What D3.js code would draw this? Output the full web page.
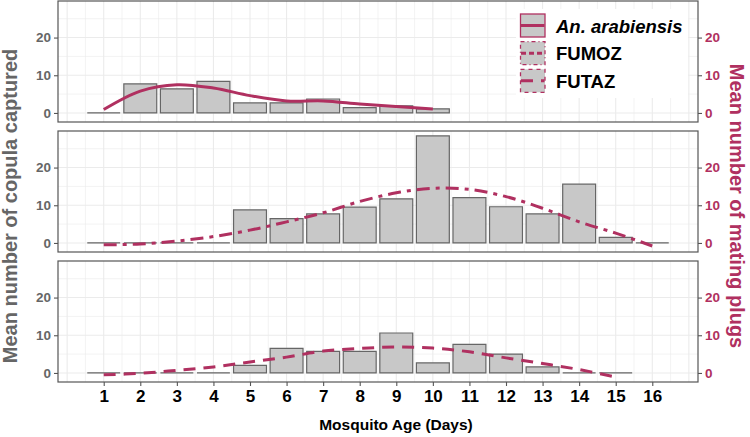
<!DOCTYPE html>
<html>
<head>
<meta charset="utf-8">
<script src="https://cdn.jsdelivr.net/npm/d3@7"></script>
<style>
  body { margin: 0; background: #fff; }
  svg { display: block; font-family: "Liberation Sans", Arial, Helvetica, sans-serif; }
</style>
</head>
<body>
<svg id="chart"></svg>
<script>

var w = 750;
var h = 437;

// data
var days = [1, 2, 3, 4, 5, 6, 7, 8, 9, 10, 11, 12, 13, 14, 15, 16];
var groups = ['An. arabiensis', 'FUMOZ', 'FUTAZ'];

var copula_arabiensis = [0, 7.7, 6.4, 8.4, 2.65, 2.7, 3.7, 1.4, 1.9, 1.1];
var copula_fumoz = [0, 0, 0, 0, 8.75, 6.45, 7.7, 9.5, 11.7, 28.4, 12.0, 9.6, 7.7, 15.6, 1.5, 0];
var copula_futaz = [0, 0, 0, 0, 2.0, 6.5, 5.7, 5.7, 10.6, 2.65, 7.6, 5.0, 1.6, 0, 0];

var plugs_arabiensis = [0.9, 5.8, 7.5, 6.6, 4.6, 3.2, 3.2, 2.4, 1.7, 1.05];
var plugs_fumoz = [-0.5, -0.3, 0.5, 1.7, 3.4, 5.6, 8.0, 11.0, 13.3, 14.5, 14.2, 12.3, 9.2, 5.6, 2.6, -0.8];
var plugs_futaz = [-0.5, -0.1, 0.7, 1.6, 2.9, 4.2, 5.8, 6.5, 6.9, 6.6, 5.6, 4.0, 2.5, 0.9, -1.1];

var y_ticks = [0, 10, 20];

var copula = [copula_arabiensis, copula_fumoz, copula_futaz];
var plugs = [plugs_arabiensis, plugs_fumoz, plugs_futaz];
var dashes = [null, '13,6,4,6', '12,8'];
var key_dashes = [null, '4,3,1,3', '4,4'];

var maroon = '#b03060';
var grey_txt = '#666';
var font = '"Liberation Sans", Arial, Helvetica, sans-serif';

var left = 58, right = 698;
var tops = [1, 131, 261];
var ph = 121;

var svg = d3.select('#chart')
	.attr('width', w)
	.attr('height', h);

var x = d3.scaleLinear()
	.domain([-0.25, 17.25])
	.range([left, right]);

var bw = x(0.9) - x(0);

function panel(i) {

	var top = tops[i];
	var y = d3.scaleLinear()
		.domain([-2.4, 29.7])
		.range([top + ph, top]);

	var g = svg.append('g');

	g.append('rect')
		.attr('x', left).attr('y', top)
		.attr('width', right - left).attr('height', ph)
		.attr('fill', '#fff');

	// grid
	g.selectAll('.vgrid')
		.data(d3.range(0, 17.01, 0.5))
		.enter()
		.append('line')
		.attr('x1', d => x(d)).attr('x2', d => x(d))
		.attr('y1', top).attr('y2', top + ph)
		.attr('stroke', '#ebebeb')
		.attr('stroke-width', d => d % 1 == 0 ? 1.1 : 0.6);

	g.selectAll('.hgrid')
		.data([0, 5, 10, 15, 20, 25])
		.enter()
		.append('line')
		.attr('x1', left).attr('x2', right)
		.attr('y1', d => y(d)).attr('y2', d => y(d))
		.attr('stroke', '#ebebeb')
		.attr('stroke-width', d => d % 10 == 0 ? 1.1 : 0.6);

	// bars (zero bars still show as a line)
	g.selectAll('.bar')
		.data(copula[i])
		.enter()
		.append('path')
		.attr('d', function(d, j) {
			var x0 = x(days[j]) - bw / 2;
			return 'M' + x0 + ',' + y(0) + 'H' + (x0 + bw) + 'V' + y(d) + 'H' + x0 + 'Z';
		})
		.attr('fill', '#c8c8c8')
		.attr('stroke', '#666')
		.attr('stroke-width', 1.2);

	// mating plugs curve
	var line = d3.line()
		.x((d, j) => x(days[j]))
		.y(d => y(d))
		.curve(d3.curveCatmullRom.alpha(0.5));

	g.append('path')
		.datum(plugs[i])
		.attr('d', line)
		.attr('fill', 'none')
		.attr('stroke', maroon)
		.attr('stroke-width', 3)
		.attr('stroke-dasharray', dashes[i]);

	g.append('rect')
		.attr('x', left).attr('y', top)
		.attr('width', right - left).attr('height', ph)
		.attr('fill', 'none')
		.attr('stroke', '#555')
		.attr('stroke-width', 1.2);

	// left axis
	var ly = g.append('g')
		.attr('transform', 'translate(' + left + ',0)')
		.call(d3.axisLeft(y).tickValues(y_ticks).tickSize(4).tickPadding(3));
	ly.select('.domain').remove();
	ly.selectAll('line').attr('stroke', '#555').attr('stroke-width', 1.1);
	ly.selectAll('text')
		.attr('fill', grey_txt)
		.style('font', 'bold 13.5px ' + font);

	// right axis
	var ry = g.append('g')
		.attr('transform', 'translate(' + right + ',0)')
		.call(d3.axisRight(y).tickValues(y_ticks).tickSize(4).tickPadding(3));
	ry.select('.domain').remove();
	ry.selectAll('line').attr('stroke', '#555').attr('stroke-width', 1.1);
	ry.selectAll('text')
		.attr('fill', maroon)
		.style('font', 'bold 13.5px ' + font);
}

[0, 1, 2].forEach(panel);

// x axis
var xa = svg.append('g')
	.attr('transform', 'translate(0,' + (tops[2] + ph) + ')')
	.call(d3.axisBottom(x).tickValues(days).tickSize(4).tickPadding(4));
xa.select('.domain').remove();
xa.selectAll('line').attr('stroke', '#555').attr('stroke-width', 1.1);
xa.selectAll('text')
	.attr('fill', '#000')
	.style('font', 'bold 17px ' + font);

// axis titles
svg.append('text')
	.attr('x', 396).attr('y', 430)
	.attr('text-anchor', 'middle')
	.style('font', 'bold 15.5px ' + font)
	.attr('fill', '#000')
	.text('Mosquito Age (Days)');

svg.append('text')
	.attr('transform', 'translate(17,206) rotate(-90)')
	.attr('text-anchor', 'middle')
	.style('font', 'bold 20px ' + font)
	.attr('fill', grey_txt)
	.text('Mean number of copula captured');

svg.append('text')
	.attr('transform', 'translate(730,206) rotate(90)')
	.attr('text-anchor', 'middle')
	.style('font', 'bold 20px ' + font)
	.attr('fill', maroon)
	.text('Mean number of mating plugs');

// legend
var lg = svg.append('g');
lg.append('rect')
	.attr('x', 516).attr('y', 9)
	.attr('width', 172).attr('height', 89)
	.attr('fill', '#fff');

var key_y = [14, 41.7, 69.3];
groups.forEach(function(name, i) {
	lg.append('rect')
		.attr('x', 520.5).attr('y', key_y[i])
		.attr('width', 24.5).attr('height', 23)
		.attr('fill', '#c8c8c8')
		.attr('stroke', maroon)
		.attr('stroke-width', 1.3)
		.attr('stroke-dasharray', key_dashes[i]);
	lg.append('line')
		.attr('x1', 521).attr('x2', 544.5)
		.attr('y1', key_y[i] + 11.5).attr('y2', key_y[i] + 11.5)
		.attr('stroke', maroon)
		.attr('stroke-width', 3)
		.attr('stroke-dasharray', i == 1 ? '5,3' : (i == 2 ? '12,8' : null));
	lg.append('text')
		.attr('x', 556).attr('y', key_y[i] + 18.5)
		.style('font', (i == 0 ? 'italic ' : '') + 'bold 18.5px ' + font)
		.attr('fill', '#000')
		.text(name);
});

</script>
</body>
</html>
